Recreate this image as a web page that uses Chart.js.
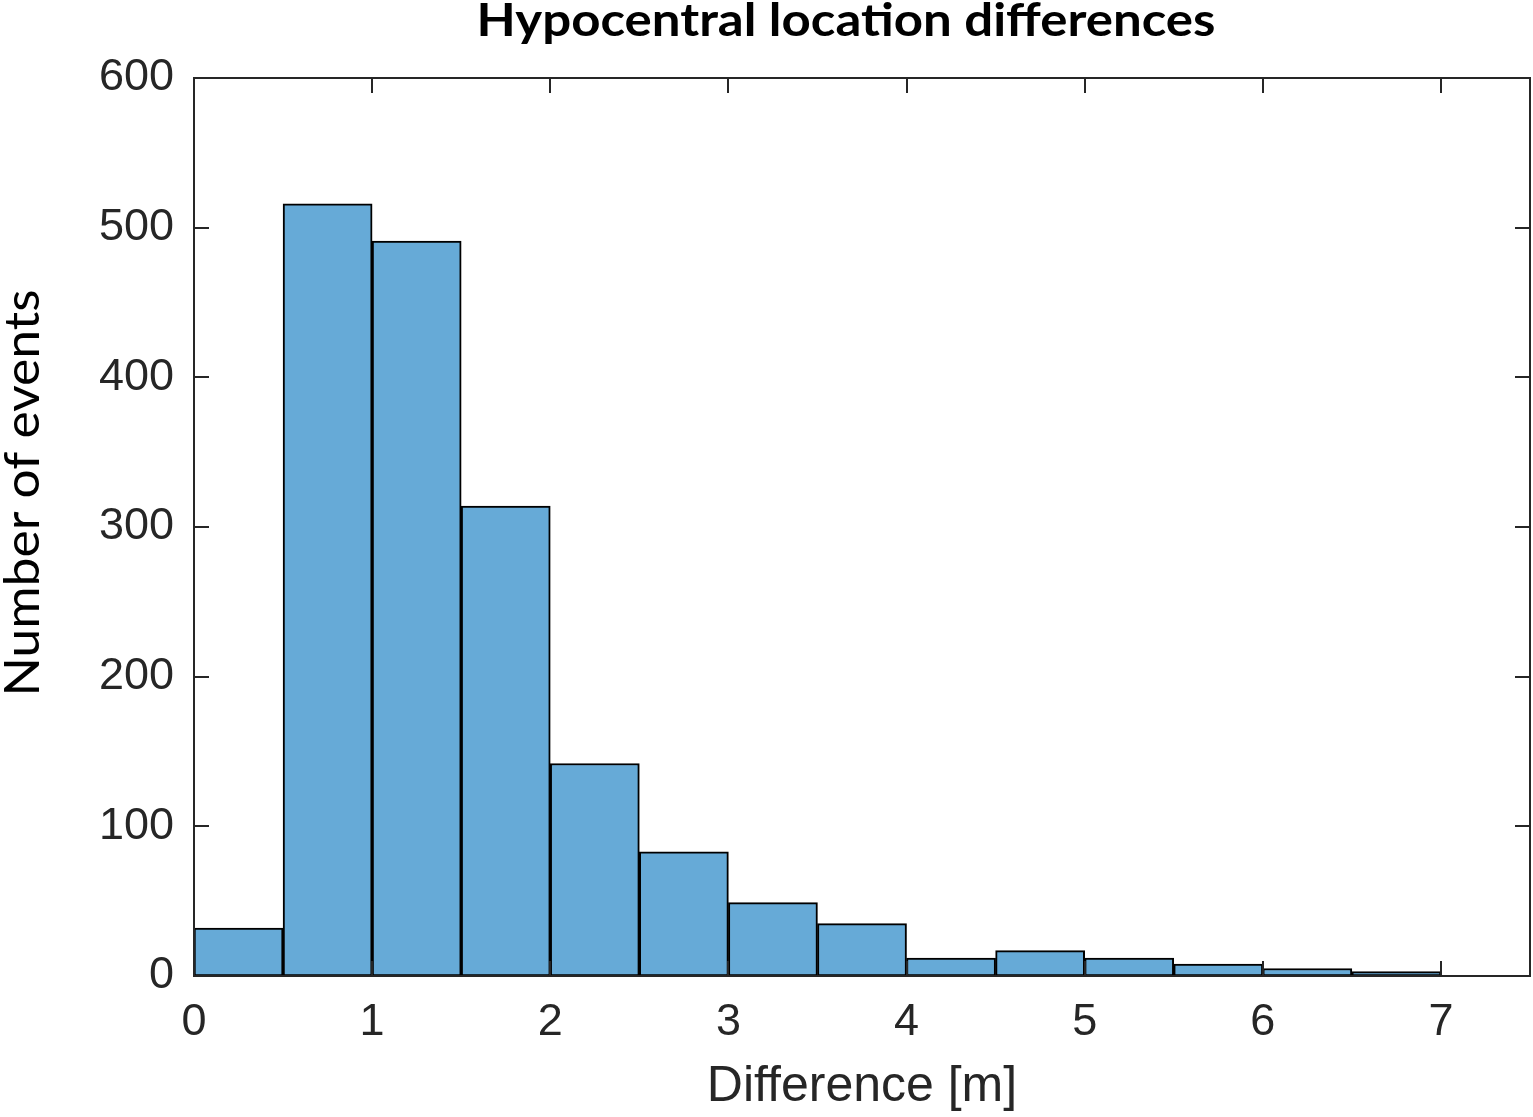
<!DOCTYPE html>
<html>
<head>
<meta charset="utf-8">
<script src="https://cdn.jsdelivr.net/npm/chart.js@4"></script>
<style>
  html, body { margin: 0; padding: 0; background: #fff; }
  #wrap { width: 1533px; height: 1117px; position: relative; }
</style>
</head>
<body>
<div id="wrap"><canvas id="c" width="1533" height="1117"></canvas></div>
<script>
// ---- data ----
const chartTitle = "Hypocentral location differences";
const xAxisTitle = "Difference [m]";
const yAxisTitle = "Number of events";
const binCenters = [0.25, 0.75, 1.25, 1.75, 2.25, 2.75, 3.25, 3.75, 4.25, 4.75, 5.25, 5.75, 6.25, 6.75];
const counts     = [32, 516, 491, 314, 142, 83, 49, 35, 12, 17, 12, 8, 5, 3];
const xTickValues = [0, 1, 2, 3, 4, 5, 6, 7];
const yTickValues = [0, 100, 200, 300, 400, 500, 600];

const AXIS_COLOR = '#262626';

function fitText(ctx, text, x, y, targetWidth) {
  const w = ctx.measureText(text).width;
  ctx.save();
  ctx.translate(x, y);
  ctx.scale(targetWidth / w, 1);
  ctx.fillText(text, 0, 0);
  ctx.restore();
}

const framePlugin = {
  id: 'frame',
  afterDraw(chart) {
    const { ctx, chartArea: { left, right, top, bottom }, scales: { x, y } } = chart;
    ctx.save();
    ctx.strokeStyle = AXIS_COLOR;
    ctx.lineWidth = 2;
    ctx.strokeRect(left, top, right - left, bottom - top);
    const tl = 15;
    ctx.beginPath();
    x.ticks.forEach(t => {
      const px = Math.round(x.getPixelForValue(t.value));
      ctx.moveTo(px, bottom); ctx.lineTo(px, bottom - tl);
      ctx.moveTo(px, top); ctx.lineTo(px, top + tl);
    });
    y.ticks.forEach(t => {
      const py = Math.round(y.getPixelForValue(t.value));
      ctx.moveTo(left, py); ctx.lineTo(left + tl, py);
      ctx.moveTo(right, py); ctx.lineTo(right - tl, py);
    });
    ctx.stroke();

    // chart title
    ctx.fillStyle = '#000';
    ctx.textAlign = 'center';
    ctx.textBaseline = 'alphabetic';
    ctx.font = 'bold 46px Lato';
    fitText(ctx, chartTitle, 846, 36, 739);

    // y axis title
    ctx.save();
    ctx.translate(39, 493);
    ctx.rotate(-Math.PI / 2);
    ctx.font = '48px Lato';
    fitText(ctx, yAxisTitle, 0, 0, 407);
    ctx.restore();
    ctx.restore();
  }
};

new Chart(document.getElementById('c'), {
  type: 'bar',
  data: {
    datasets: [{
      data: binCenters.map((c, i) => ({ x: c, y: counts[i] })),
      backgroundColor: '#66AAD7',
      borderColor: '#000000',
      borderWidth: 2,
      borderSkipped: false,
      barPercentage: 1.0,
      categoryPercentage: 1.0
    }]
  },
  options: {
    responsive: false,
    devicePixelRatio: 1,
    animation: false,
    layout: { padding: { top: 78, right: 3, left: 0, bottom: 0 } },
    plugins: {
      legend: { display: false },
      tooltip: { enabled: false },
      title: { display: false, text: chartTitle }
    },
    scales: {
      x: {
        type: 'linear',
        min: 0,
        max: 7.5,
        offset: false,
        grid: { display: false, drawTicks: false },
        border: { display: false },
        afterBuildTicks: s => { s.ticks = xTickValues.map(v => ({ value: v })); },
        afterFit: s => { s.height = 141; },
        ticks: {
          color: AXIS_COLOR,
          font: { family: 'Liberation Sans', size: 45 },
          padding: 20,
          maxRotation: 0,
          autoSkip: false
        },
        title: {
          display: true,
          text: xAxisTitle,
          color: AXIS_COLOR,
          font: { family: 'Liberation Sans', size: 50 },
          padding: { top: 0, bottom: 0 }
        }
      },
      y: {
        min: 0,
        max: 600,
        grid: { display: false, drawTicks: false },
        border: { display: false },
        afterBuildTicks: s => { s.ticks = yTickValues.map(v => ({ value: v })); },
        afterFit: s => { s.width = 194; },
        ticks: {
          color: AXIS_COLOR,
          font: { family: 'Liberation Sans', size: 45 },
          padding: 20
        }
      }
    }
  },
  plugins: [framePlugin]
});
</script>
</body>
</html>
